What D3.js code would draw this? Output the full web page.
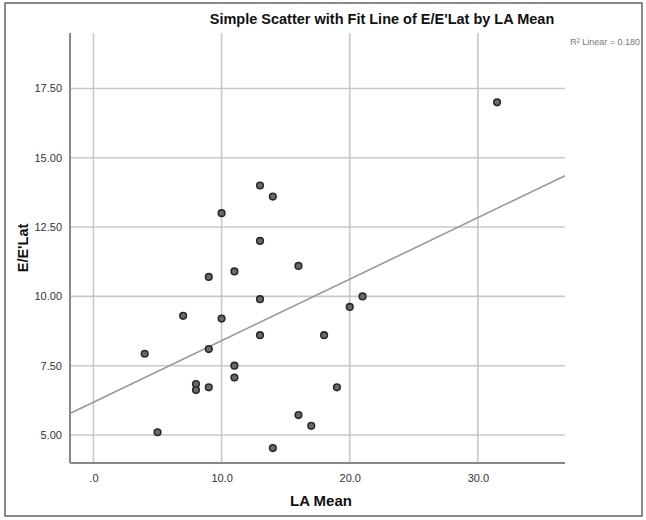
<!DOCTYPE html>
<html><head><meta charset="utf-8">
<script src="https://cdn.jsdelivr.net/npm/d3@7/dist/d3.min.js"></script>
<style>body{margin:0;background:#fff}svg{display:block}</style>
</head><body>
<script>
// Data
const laMean = [4,5,7,8,8,9,9,9,10,10,11,11,11,13,13,13,13,14,14,16,16,17,18,19,20,21,31.5];
const eeLat  = [7.93,5.1,9.3,6.84,6.62,10.7,8.1,6.72,13.0,9.2,10.9,7.5,7.07,14.0,12.0,9.9,8.6,13.6,4.53,11.1,5.72,5.33,8.6,6.72,9.62,10.0,17.0];
const xTicks = [0,10,20,30];
const xTickLabels = [".0","10.0","20.0","30.0"];
const yTicks = [5,7.5,10,12.5,15,17.5];
const yTickLabels = ["5.00","7.50","10.00","12.50","15.00","17.50"];
const fitCoef = [6.18, 0.222]; // intercept, slope of linear fit
const rSquared = "0.180";

const W = 646, H = 520;
const svg = d3.select("body").append("svg").attr("width", W).attr("height", H);
const font = "'Liberation Sans Narrow','Liberation Sans',Arial,sans-serif";

// outer frame
svg.append("rect").attr("x",5).attr("y",3).attr("width",637).attr("height",513)
  .attr("fill","none").attr("stroke","#666").attr("stroke-width",1.5);

const L = 70, R = 565, T = 33, B = 463;
const x = d3.scaleLinear().domain([-1.83, 36.8]).range([L, R]);
const y = d3.scaleLinear().domain([3.99, 19.5]).range([B, T]);

// gridlines
svg.append("g").selectAll("line").data(yTicks).join("line")
  .attr("x1", L).attr("x2", R).attr("y1", d=>y(d)).attr("y2", d=>y(d))
  .attr("stroke","#c8c8c8").attr("stroke-width",1.6);
svg.append("g").selectAll("line").data(xTicks).join("line")
  .attr("y1", T).attr("y2", B).attr("x1", d=>x(d)).attr("x2", d=>x(d))
  .attr("stroke","#c8c8c8").attr("stroke-width",1.6);

// axes
const xAxis = d3.axisBottom(x).tickValues(xTicks).tickSize(0).tickPadding(11)
  .tickFormat((d,i)=>xTickLabels[i]);
const gx = svg.append("g").attr("transform",`translate(0,${B})`).call(xAxis);
gx.select(".domain").attr("stroke","#888").attr("stroke-width",2).attr("d",`M${L},0H${R}`);
gx.selectAll("text").attr("font-family",font).attr("font-size",11).attr("fill","#333");

const yAxis = d3.axisLeft(y).tickValues(yTicks).tickSize(0).tickPadding(8)
  .tickFormat((d,i)=>yTickLabels[i]);
const gy = svg.append("g").attr("transform",`translate(${L},0)`).call(yAxis);
gy.select(".domain").attr("stroke","#888").attr("stroke-width",2).attr("d",`M0,${T}V${B}`);
gy.selectAll("text").attr("font-family",font).attr("font-size",11).attr("fill","#333");

// fit line
const fx = x.domain();
svg.append("line")
  .attr("x1", x(fx[0])).attr("y1", y(fitCoef[0]+fitCoef[1]*fx[0]))
  .attr("x2", x(fx[1])).attr("y2", y(fitCoef[0]+fitCoef[1]*fx[1]))
  .attr("stroke","#999").attr("stroke-width",1.6);

// points
svg.append("g").selectAll("circle").data(laMean.map((d,i)=>[d,eeLat[i]])).join("circle")
  .attr("cx", d=>x(d[0])).attr("cy", d=>y(d[1])).attr("r",3.3)
  .attr("fill","#6a6a6a").attr("stroke","#2a2a2a").attr("stroke-width",1.6);

// titles
svg.append("text").attr("x",382).attr("y",24).attr("text-anchor","middle")
  .attr("font-family",font).attr("font-weight","bold").attr("font-size",14.5).attr("fill","#111")
  .text("Simple Scatter with Fit Line of E/E'Lat by LA Mean");
svg.append("text").attr("x",640).attr("y",45).attr("text-anchor","end")
  .attr("font-family",font).attr("font-size",9).attr("fill","#777")
  .text("R\u00B2 Linear = " + rSquared);
svg.append("text").attr("transform","translate(28,248) rotate(-90)").attr("text-anchor","middle")
  .attr("font-family",font).attr("font-weight","bold").attr("font-size",14.5).attr("fill","#111")
  .text("E/E'Lat");
svg.append("text").attr("x",321).attr("y",506).attr("text-anchor","middle")
  .attr("font-family",font).attr("font-weight","bold").attr("font-size",15).attr("fill","#111")
  .text("LA Mean");
</script>
</body></html>
